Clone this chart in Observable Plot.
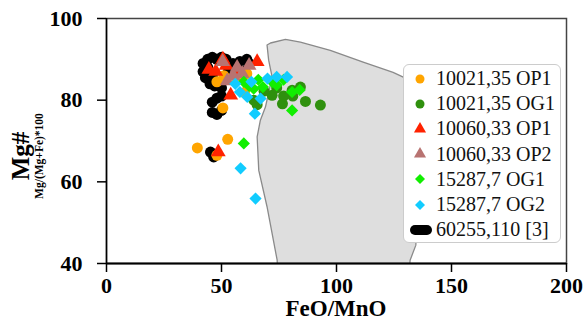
<!DOCTYPE html>
<html>
<head>
<meta charset="utf-8">
<script src="https://cdn.jsdelivr.net/npm/d3@7"></script>
<script src="https://cdn.jsdelivr.net/npm/@observablehq/plot@0.6"></script>
<style>
  html, body { margin: 0; padding: 0; background: white; }
  #wrap { position: relative; width: 584px; height: 329px; }
  #legend {
    position: absolute; left: 403px; top: 64px; width: 158px; height: 179px;
    border: 1px solid #cccccc; border-radius: 6px; background: white; box-sizing: border-box;
    font-family: "Liberation Serif", serif; font-size: 20px; color: #111; padding-top: 1px;
  }
  .row { height: 25.2px; line-height: 25.2px; display: flex; align-items: center; white-space: nowrap; }
  .row svg { width: 28px; height: 14px; flex: none; margin-left: 2px; }
</style>
</head>
<body>
<div id="wrap"><div id="legend"></div></div>
<script>
const xTicks = [0, 50, 100, 150, 200];
const yTicks = [40, 60, 80, 100];
const seriesNames = ["10021,35 OP1", "10021,35 OG1", "10060,33 OP1", "10060,33 OP2", "15287,7 OG1", "15287,7 OG2", "60255,110 [3]"];
const seriesColors = ["#ffa500", "#2f900e", "#ff2200", "#b87371", "#11ee00", "#11ccff", "#000000"];

// gray field (FeO/MnO, Mg#)
const fieldX = [69.8, 71.3, 77.8, 84.3, 97.3, 111.6, 124.6, 129.5, 132.5, 134.2, 134.8, 134.5, 132.0, 131.5, 74.5, 74.2, 69.8, 66.2, 65.5, 66.9, 69.1, 72.0, 70.5, 69.8];
const fieldY = [93.5, 94.0, 94.9, 94.2, 92.2, 89.3, 86.8, 85.5, 78.0, 65.0, 50.0, 44.5, 40.8, 37.0, 37.0, 40.8, 53.9, 62.8, 71.0, 75.1, 78.3, 85.7, 89.8, 93.5];

const blackX = [42, 44, 46, 48, 50, 52, 55, 58, 61, 42, 43, 45, 47, 50, 44, 46, 53, 58, 62, 48, 46, 50, 46, 48, 50, 45.2, 46.6, 60, 56];
const blackY = [89, 90, 90.5, 90, 90.5, 90, 89, 89.5, 90, 87, 85.5, 84, 83.5, 83, 88, 86, 87, 87.5, 89, 80.5, 79.5, 81, 77, 76.5, 77.5, 67.3, 66.1, 87, 86];

const op1X = [39.5, 52.7, 48.0, 50.6, 60.0, 48.0, 51.0, 61.0, 57.0];
const op1Y = [68.3, 70.4, 66.5, 78.1, 81.9, 84.5, 86.0, 86.5, 85.0];

const og1X = [93.0, 86.5, 76.5, 65.5, 84.3, 80.7, 72.0, 68.5, 77.0, 64.0, 74.0, 81.0];
const og1Y = [78.8, 79.7, 79.1, 78.9, 83.2, 82.4, 81.2, 82.2, 81.0, 80.0, 83.0, 81.0];

const tr1X = [50.6, 65.5, 44.5, 54.0, 56.8, 48.6, 47.5, 52.0];
const tr1Y = [90.0, 89.4, 87.5, 81.2, 87.3, 67.3, 87.0, 88.5];

const tr2X = [50.5, 56.8, 62.0, 52.5, 55.0, 59.0];
const tr2Y = [89.4, 88.0, 88.5, 84.7, 86.0, 86.5];

const dg1X = [80.7, 59.7, 77.0, 72.0, 66.0, 64.0, 80.7, 84.0, 74.0, 59.7, 68.0, 62.0];
const dg1Y = [77.5, 69.4, 85.0, 84.5, 85.0, 82.8, 82.0, 82.5, 83.7, 84.5, 83.2, 83.5];

const dg2X = [58.3, 64.8, 64.5, 78.5, 74.0, 67.0, 70.0, 56.0, 61.2, 58.0, 63.0];
const dg2Y = [63.3, 55.9, 76.7, 85.7, 85.7, 80.4, 85.3, 84.0, 80.8, 82.0, 84.5];

const toRows = (xs, ys) => xs.map((x, i) => ({x, y: ys[i]}));
const field = toRows(fieldX, fieldY);

const R = 5.5;
const plot = Plot.plot({
  width: 584, height: 329,
  marginLeft: 106, marginRight: 18, marginTop: 18, marginBottom: 66,
  x: {domain: [0, 200]},
  y: {domain: [40, 100]},
  style: {fontFamily: "Liberation Serif, serif", fontSize: "22px", fontWeight: "bold", color: "black", background: "white", overflow: "visible"},
  marks: [
    Plot.line(field, {x: "x", y: "y", fill: "#dedede", stroke: "#8a8a8a", strokeWidth: 1.3, clip: "frame"}),
    Plot.dot(toRows(blackX, blackY), {x: "x", y: "y", fill: seriesColors[6], r: R, symbol: "circle"}),
    Plot.dot(toRows(op1X, op1Y), {x: "x", y: "y", fill: seriesColors[0], r: R, symbol: "circle"}),
    Plot.dot(toRows(og1X, og1Y), {x: "x", y: "y", fill: seriesColors[1], r: R, symbol: "circle"}),
    Plot.dot(toRows(tr1X, tr1Y), {x: "x", y: "y", fill: seriesColors[2], r: R, symbol: "triangle"}),
    Plot.dot(toRows(tr2X, tr2Y), {x: "x", y: "y", fill: seriesColors[3], r: R, symbol: "triangle"}),
    Plot.dot(toRows(dg1X, dg1Y), {x: "x", y: "y", fill: seriesColors[4], r: R, symbol: "diamond2"}),
    Plot.dot(toRows(dg2X, dg2Y), {x: "x", y: "y", fill: seriesColors[5], r: R, symbol: "diamond2"}),
    Plot.frame({stroke: "#444", strokeWidth: 1.5}),
    Plot.axisX({ticks: xTicks, tickSize: 9, tickPadding: 5, label: null, stroke: "black", strokeWidth: 1.5, fill: "black"}),
    Plot.axisY({ticks: yTicks, tickSize: 9, tickPadding: 15, label: null, stroke: "black", strokeWidth: 1.5, fill: "black"}),
    Plot.ruleY([40], {stroke: "black", strokeWidth: 2}),
    Plot.ruleX([0], {stroke: "black", strokeWidth: 1.5})
  ]
});

const svg = d3.select(plot);
svg.append("text").attr("x", 336).attr("y", 316).attr("text-anchor", "middle")
  .attr("font-size", 23).attr("font-weight", "bold").attr("font-family", "Liberation Serif, serif").text("FeO/MnO");
svg.append("text").attr("transform", "translate(29,156) rotate(-90)").attr("text-anchor", "middle")
  .attr("font-size", 25).attr("font-weight", "bold").attr("font-family", "Liberation Serif, serif").text("Mg#");
svg.append("text").attr("transform", "translate(43,156) rotate(-90)").attr("text-anchor", "middle")
  .attr("font-size", 11.5).attr("font-weight", "bold").attr("font-family", "Liberation Serif, serif").text("Mg/(Mg+Fe)*100");

document.getElementById("wrap").prepend(plot);

// legend
const shapes = ["circle", "circle", "triangle", "triangle", "diamond2", "diamond2", "capsule"];
const legend = d3.select("#legend");
seriesNames.forEach((name, i) => {
  const row = legend.append("div").attr("class", "row");
  const s = row.append("svg").attr("viewBox", "0 0 28 14");
  const c = seriesColors[i];
  if (shapes[i] === "capsule") {
    s.append("rect").attr("x", 4).attr("y", 2).attr("width", 22).attr("height", 10).attr("rx", 5).attr("fill", c);
  } else {
    const sym = shapes[i] === "circle" ? d3.symbolCircle : shapes[i] === "triangle" ? d3.symbolTriangle : d3.symbolDiamond2;
    s.append("path").attr("transform", "translate(14,7)").attr("d", d3.symbol(sym, Math.PI * 4.5 * 4.5)()).attr("fill", c);
  }
  row.append("span").text(name).style("margin-left", "2px");
});
</script>
</body>
</html>
